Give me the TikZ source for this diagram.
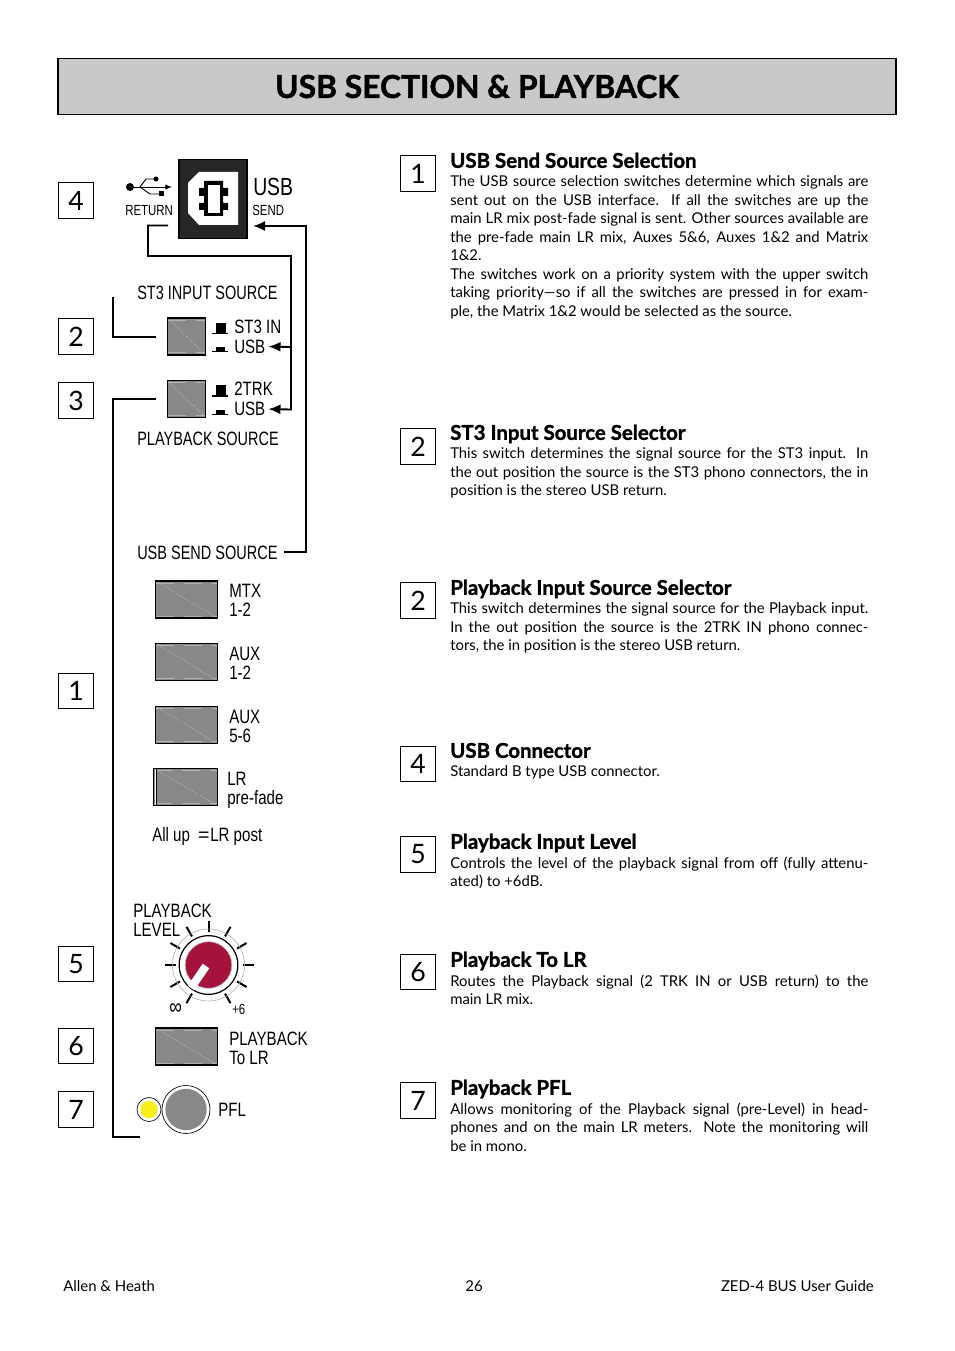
\documentclass[tikz,border=0pt]{standalone}
\usepackage{fontspec}
\setmainfont{Lato}[BoldFeatures={FakeBold=1.4}]
\newfontfamily\panelfont[FakeStretch=0.78]{Liberation Sans}
\newfontfamily\paneltitlefont[FakeStretch=0.75]{Liberation Sans}
\usepackage{tikz}
\usetikzlibrary{arrows.meta,positioning}

\definecolor{titlegrey}{HTML}{C9C9C9}
\definecolor{capgrey}{HTML}{888888}
\definecolor{knobred}{HTML}{A5123C}
\definecolor{ledyellow}{HTML}{F7EE1A}

\tikzset{
  num/.style={draw, fill=white, line width=.6pt, minimum size=26.5pt, inner sep=0pt,
    font=\fontsize{20}{20}\selectfont},
  lab/.style={anchor=west, inner sep=0pt, text height=10.4pt, text depth=0pt,
    font=\panelfont\fontsize{14.5}{14.5}\selectfont},
  titlelab/.style={lab, font=\paneltitlefont\fontsize{14.5}{14.5}\selectfont},
  smalllab/.style={lab, text height=7.9pt, font=\panelfont\fontsize{11}{11}\selectfont},
  wire/.style={line width=1.4pt, line join=miter},
  swbox/.style={draw, line width=1.2pt, fill=capgrey, inner sep=0pt,
    path picture={\draw[white!70!capgrey, densely dotted, line width=.4pt]
      (path picture bounding box.north west) -- (path picture bounding box.south east);
      \draw[white!35!capgrey, line width=.6pt, dash pattern=on 14pt off 7pt]
      ([yshift=-1.6pt]path picture bounding box.north west) -- ([yshift=-1.6pt]path picture bounding box.north east);
      \draw[white!35!capgrey, line width=.6pt, dash pattern=on 14pt off 7pt]
      ([yshift=1.6pt]path picture bounding box.south west) -- ([yshift=1.6pt]path picture bounding box.south east);}},
  swsmall/.style={swbox, minimum width=28.5pt, minimum height=27.5pt},
  swwide/.style={swbox, minimum width=46.5pt, minimum height=28pt},
  head/.style={anchor=west, inner sep=0pt, text height=11pt, text depth=0pt,
    font=\bfseries\fontsize{15.3}{15.3}\selectfont},
  body/.style={anchor=north west, inner sep=0pt, text width=313.5pt, align=justify,
    font=\fontsize{11.15}{13.9}\selectfont},
  foot/.style={inner sep=0pt, font=\fontsize{11.2}{11.2}\selectfont}
}

\begin{document}
\begin{tikzpicture}[x=.75pt, y=-.75pt, >={Latex[length=9pt,width=7.5pt]}]
  \useasboundingbox (0,0) rectangle (954,1351);
  \fill[white] (0,0) rectangle (954,1351);

  % title bar
  \node (title) [draw, line width=.9pt, fill=titlegrey, minimum width=628.5pt, minimum height=42.5pt,
    font=\bfseries\fontsize{23.8}{23.8}\selectfont] at (477,86.5) {USB SECTION \& PLAYBACK};

  % numbers, left
  \node (l4) [num] at (76,200.5) {4};
  \node (l2) [num] at (76,336.5) {2};
  \node (l3) [num] at (76,400.5) {3};
  \node (l1) [num] at (76,691) {1};
  \node (l5) [num] at (76,964) {5};
  \node (l6) [num] at (76,1046) {6};
  \node (l7) [num] at (76,1109.5) {7};

  % usb connector
  \node (usbplug) [fill=black!85, draw=black, line width=1pt, minimum width=51pt, minimum height=59pt, inner sep=0pt] at (213,199) {};
  \fill[white] (199,172) -- (238,172) -- (238,225) -- (199,225) -- (188,213) -- (188,183) -- cycle;
  \fill[black] (204,181) -- (223,181) -- (223,188) -- (228,188) -- (228,196) -- (223,196) -- (223,203)
    -- (228,203) -- (228,210) -- (223,210) -- (223,216) -- (204,216) -- (204,210) -- (199,210)
    -- (199,203) -- (204,203) -- (204,196) -- (199,196) -- (199,188) -- (204,188) -- cycle;
  \fill[white] (208,185) rectangle (220,213);

  % usb symbol
  \coordinate (tridA) at (130,187);
  \coordinate (tridB) at (172,187);
  \coordinate (tridC) at (156,179);
  \coordinate (tridD) at (161,194);
  \fill (tridA) circle (4);
  \fill (tridC) circle (2.5);
  \fill (158.5,191.5) rectangle (163.5,196.5);
  \draw[line width=.7pt, -{Latex[length=5pt,width=4pt]}] (tridA) -- (tridB);
  \draw[line width=.7pt] (tridA) ++(10,0) -- (146,179) -- (tridC);
  \draw[line width=.7pt] (tridA) ++(10,0) -- (150,194) -- (tridD);

  \node (usbbig) [lab, text height=13.7pt, font=\panelfont\fontsize{18.6}{18.6}\selectfont] at (253,186) {USB};
  \node (usbsend) [smalllab] at (252,210.5) {SEND};
  \node (usbret) [smalllab] at (125,210.5) {RETURN};

  % st3 + playback source
  \node (st3title) [titlelab] at (137,292.5) {ST3 INPUT SOURCE};
  \node (swst3) [swsmall] at (186.5,336.5) {};
  \node (st3in) [lab] at (234,327) {ST3 IN};
  \node (st3usb) [lab] at (234,346.5) {USB};
  \node (swtrk) [swsmall] at (186.5,399) {};
  \node (trk) [lab] at (234,389) {2TRK};
  \node (trkusb) [lab] at (234,409) {USB};
  \node (pbtitle) [titlelab] at (137,438.5) {PLAYBACK SOURCE};

  % latch marks
  \fill (215.5,323) rectangle (225.5,333);
  \draw[line width=.8pt] (212,333.5) -- (228,333.5);
  \fill (216,347) rectangle (225,351);
  \draw[line width=.8pt] (212,351.5) -- (228,351.5);
  \fill (215.5,385.5) rectangle (225.5,395.5);
  \draw[line width=.8pt] (212,396) -- (228,396);
  \fill (216,410) rectangle (225,414);
  \draw[line width=.8pt] (212,414.5) -- (228,414.5);

  % usb send source
  \node (sendtitle) [titlelab] at (137,552.5) {USB SEND SOURCE};
  \node (swmtx) [swwide] at (186.5,599.5) {};
  \node (mtxa) [lab] at (229,590.5) {MTX};
  \node (mtxb) [lab] at (229,610) {1-2};
  \node (swauxa) [swwide] at (186.5,662) {};
  \node (auxa) [lab] at (229,653.5) {AUX};
  \node (auxb) [lab] at (229,672.5) {1-2};
  \node (swauxb) [swwide] at (186.5,725) {};
  \node (auxc) [lab] at (229,716.5) {AUX};
  \node (auxd) [lab] at (229,735.5) {5-6};
  \node (swlr) [swwide, minimum width=48pt] at (185.5,787) {};
  \draw[white, line width=1pt] (155.2,769) -- (155.2,805);
  \draw[line width=.8pt] (156.6,769) -- (156.6,805);
  \node (lra) [lab] at (227,778.5) {LR};
  \node (lrb) [lab] at (227,798) {pre-fade};
  \node (allup) [lab] at (152,834.5) {All up\hspace{3pt} \scalebox{1.3}[1]{=}\hspace{.5pt}LR post};

  % playback level
  \node (lvla) [lab] at (133,911) {PLAYBACK};
  \node (lvlb) [lab] at (133,930) {LEVEL};
  \foreach \a in {-240,-210,-180,-150,-120,-90,-60,-30,30,60}
    \draw[line width=1.5pt] (208.5,965) ++(\a:33) -- ++(\a:11);
  \draw[line width=2.2pt] (243,965) -- (254,965);
  \node (knobedge) [circle, draw=gray!70, line width=.4pt, minimum size=54pt, inner sep=0pt] at (208.5,965) {};
  \node (knobring) [circle, draw, fill=white, line width=.9pt, minimum size=44pt, inner sep=0pt] at (208.5,965) {};
  \node (knob) [circle, draw=gray!50, fill=knobred, line width=.5pt, minimum size=35pt, inner sep=0pt] at (208.5,965) {};
  \draw[white, line width=6pt] (206,966) -- (191,988);
  \node (lvlinf) [smalllab, font=\panelfont\fontsize{17}{17}\selectfont] at (169,1009) {∞};
  \node (lvlsix) [smalllab] at (232,1009) {+6};

  % playback to lr
  \node (swtolr) [swwide] at (186.5,1046.5) {};
  \node (tolra) [lab] at (229,1039) {PLAYBACK};
  \node (tolrb) [lab] at (229,1058) {To LR};

  % pfl
  \node (pflhalo) [circle, draw, fill=white, line width=.5pt, minimum size=18pt, inner sep=0pt] at (149,1109.5) {};
  \node (pflring) [circle, draw, fill=white, line width=.5pt, minimum size=36pt, inner sep=0pt] at (186,1109.5) {};
  \node (pflcap) [circle, fill=capgrey, minimum size=31pt, inner sep=0pt] at (186,1109.5) {};
  \node (pflled) [circle, fill=ledyellow, minimum size=13pt, inner sep=0pt] at (149,1109.5) {};
  \node (pfl) [lab] at (218,1110) {PFL};

  % wires
  \coordinate (retA) at (168,225.5);
  \coordinate (retB) at (148,225.5);
  \coordinate (retC) at (148,256);
  \coordinate (retD) at (291,256);
  \coordinate (retE) at (291,347);
  \coordinate (retF) at (291,409.5);
  \draw[wire, ->, shorten >=2.2pt] (retA) -- (retB) -- (retC) -- (retD) -- (retF) -- (trkusb.east);
  \draw[wire, ->, shorten >=2.2pt] (retE) -- (st3usb.east);

  \coordinate (sendA) at (284,552);
  \coordinate (sendB) at (306,552);
  \coordinate (sendC) at (306,226);
  \coordinate (sendD) at (253,226);
  \draw[wire, ->] (sendA) -- (sendB) -- (sendC) -- (sendD);

  \coordinate (brA) at (113,297);
  \coordinate (brB) at (113,337);
  \coordinate (brC) at (156,337);
  \draw[wire, line width=1pt] (brA) -- (brB) -- (brC);
  \coordinate (brD) at (156,399);
  \coordinate (brE) at (113,399);
  \coordinate (brF) at (113,1137);
  \coordinate (brG) at (140,1137);
  \draw[wire] (brD) -- (brE) -- (brF) -- (brG);

  % numbers, right
  \node (r1) [num] at (418,173.5) {1};
  \node (r2) [num] at (418,446.5) {2};
  \node (r3) [num] at (418,600.5) {2};
  \node (r4) [num] at (418,764) {4};
  \node (r5) [num] at (418,854.5) {5};
  \node (r6) [num] at (418,972) {6};
  \node (r7) [num] at (418,1100.5) {7};

  % text
  \node (h1) [head] at (450,160.5) {USB Send Source Selection};
  \node (t1) [body] at (450,175.5) {The USB source selection switches determine which signals are\linebreak
    sent out on the USB interface. If all the switches are up the\linebreak
    main LR mix post-fade signal is sent. Other sources available are\linebreak
    the pre-fade main LR mix, Auxes 5\&6, Auxes 1\&2 and Matrix\linebreak
    1\&2.\\
    The switches work on a priority system with the upper switch\linebreak
    taking priority---so if all the switches are pressed in for exam-\linebreak
    ple, the Matrix 1\&2 would be selected as the source.};

  \node (h2) [head] at (450,432.5) {ST3 Input Source Selector};
  \node (t2) [body] at (450,447.5) {This switch determines the signal source for the ST3 input. In\linebreak
    the out position the source is the ST3 phono connectors, the in\linebreak
    position is the stereo USB return.};

  \node (h3) [head] at (450,587.5) {Playback Input Source Selector};
  \node (t3) [body] at (450,602.5) {This switch determines the signal source for the Playback input.\linebreak
    In the out position the source is the 2TRK IN phono connec-\linebreak
    tors, the in position is the stereo USB return.};

  \node (h4) [head] at (450,750.5) {USB Connector};
  \node (t4) [body] at (450,765.5) {Standard B type USB connector.};

  \node (h5) [head] at (450,841.5) {Playback Input Level};
  \node (t5) [body] at (450,856.5) {Controls the level of the playback signal from off (fully attenu-\linebreak
    ated) to +6dB.};

  \node (h6) [head] at (450,959.5) {Playback To LR};
  \node (t6) [body] at (450,974.5) {Routes the Playback signal (2 TRK IN or USB return) to the\linebreak
    main LR mix.};

  \node (h7) [head] at (450,1087.5) {Playback PFL};
  \node (t7) [body] at (450,1102.5) {Allows monitoring of the Playback signal (pre-Level) in head-\linebreak
    phones and on the main LR meters. Note the monitoring will\linebreak
    be in mono.};

  % footer
  \node (footl) [foot, anchor=base west] at (63,1291) {Allen \& Heath};
  \node (footc) [foot, anchor=base] at (474,1291) {26};
  \node (footr) [foot, anchor=base east] at (874,1291) {ZED-4 BUS User Guide};
\end{tikzpicture}
\end{document}
